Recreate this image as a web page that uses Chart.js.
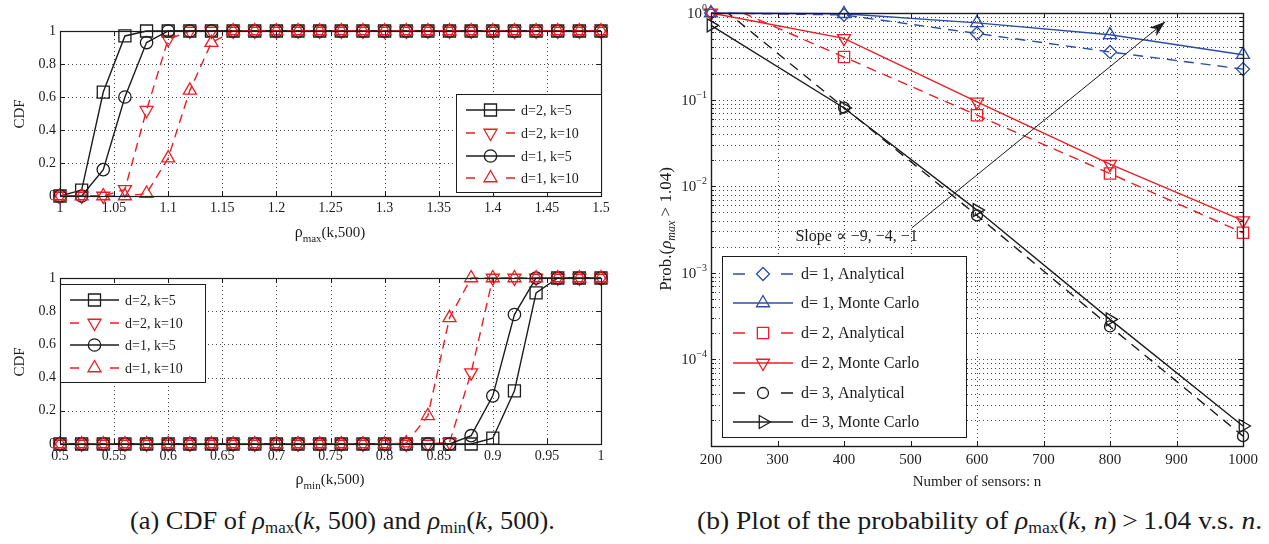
<!DOCTYPE html>
<html><head><meta charset="utf-8">
<script src="https://cdn.jsdelivr.net/npm/chart.js@4/dist/chart.umd.min.js"></script>
<style>
html,body{margin:0;padding:0;background:#fff;}
body{width:1269px;height:544px;overflow:hidden;position:relative;font-family:"Liberation Serif","DejaVu Serif",serif;color:#1a1a1a;}
canvas{position:absolute;}
#cA{left:0;top:0;} #cB{left:0;top:248px;} #cC{left:640px;top:0;}
.cap{position:absolute;top:506px;left:0;font-size:25px;line-height:30px;white-space:nowrap;transform-origin:left top;font-family:"Liberation Serif",serif;}
.cap i{font-style:italic;}
.cap sub{font-size:16px;vertical-align:-4px;line-height:0;}
</style></head><body>
<canvas id="cA" width="640" height="248"></canvas>
<canvas id="cB" width="640" height="252"></canvas>
<canvas id="cC" width="629" height="500"></canvas>
<div class="cap" id="capA">(a) CDF of <i>ρ</i><sub>max</sub>(<i>k,</i> 500) and <i>ρ</i><sub>min</sub>(<i>k,</i> 500).</div>
<div class="cap" id="capB">(b) Plot of the probability of <i>ρ</i><sub>max</sub>(<i>k, n</i>)&thinsp;&gt;&thinsp;1.04 v.s. <i>n</i>.</div>
<script>
// ---------------- DATA ----------------
const rhoMaxX = [1.00,1.02,1.04,1.06,1.08,1.10,1.12,1.14,1.16,1.18,1.20,1.22,1.24,1.26,1.28,1.30,1.32,1.34,1.36,1.38,1.40,1.42,1.44,1.46,1.48,1.50];
const maxD2K5  = [0,0.036,0.63,0.97,1,1,1,1,1,1,1,1,1,1,1,1,1,1,1,1,1,1,1,1,1,1];
const maxD2K10 = [0,0,0,0.04,0.52,0.95,1,1,1,1,1,1,1,1,1,1,1,1,1,1,1,1,1,1,1,1];
const maxD1K5  = [0,0,0.16,0.60,0.93,1,1,1,1,1,1,1,1,1,1,1,1,1,1,1,1,1,1,1,1,1];
const maxD1K10 = [0,0,0,0,0.015,0.23,0.64,0.93,1,1,1,1,1,1,1,1,1,1,1,1,1,1,1,1,1,1];
const maxTicks = [1,1.05,1.1,1.15,1.2,1.25,1.3,1.35,1.4,1.45,1.5];
const maxTickLabels = ['1','1.05','1.1','1.15','1.2','1.25','1.3','1.35','1.4','1.45','1.5'];

const rhoMinX = [0.50,0.52,0.54,0.56,0.58,0.60,0.62,0.64,0.66,0.68,0.70,0.72,0.74,0.76,0.78,0.80,0.82,0.84,0.86,0.88,0.90,0.92,0.94,0.96,0.98,1.00];
const minD2K5  = [0,0,0,0,0,0,0,0,0,0,0,0,0,0,0,0,0,0,0,0,0.035,0.32,0.91,1,1,1];
const minD2K10 = [0,0,0,0,0,0,0,0,0,0,0,0,0,0,0,0,0,0,0.01,0.43,1,1,1,1,1,1];
const minD1K5  = [0,0,0,0,0,0,0,0,0,0,0,0,0,0,0,0,0,0,0,0.05,0.29,0.78,1,1,1,1];
const minD1K10 = [0,0,0,0,0,0,0,0,0,0,0,0,0,0,0,0,0.005,0.17,0.76,1,1,1,1,1,1,1];
const minTicks = [0.5,0.55,0.6,0.65,0.7,0.75,0.8,0.85,0.9,0.95,1];
const minTickLabels = ['0.5','0.55','0.6','0.65','0.7','0.75','0.8','0.85','0.9','0.95','1'];

const cdfTicks = [0,0.2,0.4,0.6,0.8,1];
const cdfTickLabels = ['0','0.2','0.4','0.6','0.8','1'];
const cdfLegendLabels = ['d=2, k=5','d=2, k=10','d=1, k=5','d=1, k=10'];

const sensorsN = [200,400,600,800,1000];
const d1Analytical = [1.0,0.95,0.58,0.355,0.225];
const d1MonteCarlo = [1.0,0.98,0.77,0.56,0.33];
const d2Analytical = [1.45,0.31,0.066,0.014,0.0029];
const d2MonteCarlo = [1.0,0.51,0.094,0.018,0.0040];
const d3Analytical = [1.45,0.081,0.0046,0.00024,0.000013];
const d3MonteCarlo = [0.72,0.080,0.0053,0.00029,0.000017];
const nTicks = [200,300,400,500,600,700,800,900,1000];
const probDecades = [1,0.1,0.01,0.001,0.0001];
const probDecadeExp = ['0','\u22121','\u22122','\u22123','\u22124'];
const probLegendLabels = ['d= 1, Analytical','d= 1, Monte Carlo','d= 2, Analytical','d= 2, Monte Carlo','d= 3, Analytical','d= 3, Monte Carlo'];
const slopeText = 'Slope \u221D \u22129, \u22124, \u22121';
const slopeArrow = {x0:502, y0:0.0033, x1:883, y1:0.79};
const slopeLabelAt = {x:419, y:0.0023};

// ---------------- STYLE ----------------
const BLACK='#1c1c1c', RED='#ee1c24', BLUE='#2b4ea3';
const SERIF='"Liberation Serif","DejaVu Serif",serif';
const FRAME = {};

function pts(xs, ys){ return xs.map((x,i)=>({x:x, y:ys[i]})); }

function drawMarker(ctx, st, x, y){
  ctx.save();
  ctx.strokeStyle = st.color; ctx.lineWidth = st.bw||1.3; ctx.setLineDash([]);
  ctx.fillStyle='rgba(0,0,0,0)';
  Chart.helpers.drawPoint(ctx,{pointStyle:st.style, rotation:st.rot||0, radius:st.r, borderWidth:st.bw||1.3}, x, y);
  ctx.restore();
}

function richText(ctx, parts, x, y, align, angle){
  ctx.save();
  ctx.translate(x,y); if(angle) ctx.rotate(angle);
  const fnt = p => (p.italic?'italic ':'')+p.size+'px '+SERIF;
  const w = parts.map(p=>{ctx.font=fnt(p); return ctx.measureText(p.t).width;});
  const tot = w.reduce((a,b)=>a+b,0);
  let cx = align==='center' ? -tot/2 : (align==='right' ? -tot : 0);
  ctx.textBaseline='alphabetic'; ctx.textAlign='left';
  parts.forEach((p,i)=>{ctx.font=fnt(p); ctx.fillStyle=p.color||BLACK; ctx.fillText(p.t,cx,p.dy||0); cx+=w[i];});
  ctx.restore();
}

const framePlugin = {
  id:'frame',
  beforeDatasetsDraw(chart){
    const o = FRAME[chart.canvas.id]; if(!o) return;
    const {ctx, chartArea:a} = chart; const xs=chart.scales.x, ys=chart.scales.y;
    ctx.save();
    ctx.strokeStyle='#444'; ctx.lineWidth=1; ctx.setLineDash([1,3]);
    ctx.beginPath();
    (o.xGrid||[]).forEach(v=>{const px=Math.round(xs.getPixelForValue(v))+0.5; ctx.moveTo(px,a.top); ctx.lineTo(px,a.bottom);});
    (o.yGrid||[]).forEach(v=>{const py=Math.round(ys.getPixelForValue(v))+0.5; ctx.moveTo(a.left,py); ctx.lineTo(a.right,py);});
    ctx.stroke();
    ctx.restore();
  },
  afterDatasetsDraw(chart){
    const o = FRAME[chart.canvas.id]; if(!o) return;
    const {ctx, chartArea:a} = chart; const xs=chart.scales.x, ys=chart.scales.y;
    ctx.save();
    ctx.strokeStyle=BLACK; ctx.setLineDash([]); ctx.lineWidth=1;
    ctx.beginPath();
    (o.xTicks||[]).forEach(v=>{const px=Math.round(xs.getPixelForValue(v))+0.5; ctx.moveTo(px,a.bottom); ctx.lineTo(px,a.bottom-5); ctx.moveTo(px,a.top); ctx.lineTo(px,a.top+5);});
    (o.yTicks||[]).forEach(v=>{const py=Math.round(ys.getPixelForValue(v))+0.5; ctx.moveTo(a.left,py); ctx.lineTo(a.left+5,py); ctx.moveTo(a.right,py); ctx.lineTo(a.right-5,py);});
    (o.yMinor||[]).forEach(v=>{const py=Math.round(ys.getPixelForValue(v))+0.5; ctx.moveTo(a.left,py); ctx.lineTo(a.left+3,py); ctx.moveTo(a.right,py); ctx.lineTo(a.right-3,py);});
    ctx.stroke();
    ctx.lineWidth=o.boxWidth||1.2;
    ctx.strokeRect(Math.round(a.left)+0.5, Math.round(a.top)+0.5, Math.round(a.right-a.left), Math.round(a.bottom-a.top));
    ctx.restore();
    if (o.extra) o.extra(chart);
  },
  afterDraw(chart){
    const o = FRAME[chart.canvas.id]; if(!o) return;
    const ctx = chart.ctx;
    if (o.legend){
      const L=o.legend;
      ctx.save();
      ctx.fillStyle='#fff'; ctx.fillRect(L.x,L.y,L.w,L.h);
      ctx.strokeStyle=BLACK; ctx.lineWidth=1; ctx.setLineDash([]);
      ctx.strokeRect(L.x+0.5,L.y+0.5,L.w,L.h);
      L.items.forEach((it,i)=>{
        const y=L.rows[i];
        ctx.strokeStyle=it.color; ctx.lineWidth=it.lw||1.4; ctx.setLineDash([]);
        ctx.beginPath();
        if(it.dashed){ ctx.moveTo(L.lx0,y); ctx.lineTo(L.lx0+L.seg,y); ctx.moveTo(L.lx1-L.seg,y); ctx.lineTo(L.lx1,y);} 
        else { ctx.moveTo(L.lx0,y); ctx.lineTo(L.lx1,y);} 
        ctx.stroke();
        drawMarker(ctx,it,(L.lx0+L.lx1)/2,y);
        ctx.fillStyle=BLACK; ctx.font=L.font+'px '+SERIF; ctx.textBaseline='middle'; ctx.textAlign='left';
        ctx.fillText(it.label, L.tx, y+1);
      });
      ctx.restore();
    }
    (o.titles||[]).forEach(t=>richText(ctx,t.parts,t.x,t.y,t.align||'center',t.angle||0));
  }
};
Chart.register(framePlugin);

function ds(label, xs, ys, color, dashed, style, rot, r, order, clip){
  return {label, data:pts(xs,ys), borderColor:color, borderWidth:1.4, borderDash: dashed?dashed:[],
    pointStyle:style, pointRotation:rot||0, pointRadius:r, pointHoverRadius:r, pointBorderColor:color,
    pointBackgroundColor:'rgba(0,0,0,0)', pointBorderWidth:1.3, tension:0, fill:false, order:order,
    clip: clip===undefined?false:clip};
}

const tickFont = {family:SERIF, size:14};
function cdfChart(id, xs, series, xMin, xMax, xTicks, xTickLabels, geo, legend, titles){
  const dash=[9,6];
  FRAME[id] = {xGrid:xTicks, yGrid:cdfTicks, xTicks:xTicks, yTicks:cdfTicks, legend:legend, titles:titles};
  return new Chart(document.getElementById(id),{
    type:'line',
    data:{datasets:[
      ds(cdfLegendLabels[0], xs, series[0], BLACK, null,'rect',0,8.5,3),
      ds(cdfLegendLabels[1], xs, series[1], RED, dash,'triangle',180,7.5,2),
      ds(cdfLegendLabels[2], xs, series[2], BLACK, null,'circle',0,6.2,1),
      ds(cdfLegendLabels[3], xs, series[3], RED, dash,'triangle',0,7.5,0)
    ]},
    options:{
      animation:false, responsive:false, devicePixelRatio:1, events:[],
      layout:{padding:{left:0, top:geo.top, right:geo.right, bottom:0}},
      plugins:{legend:{display:false}, tooltip:{enabled:false}},
      scales:{
        x:{type:'linear', min:xMin, max:xMax, grid:{display:false, drawTicks:false}, border:{display:false},
          afterBuildTicks:s=>{s.ticks=xTicks.map(v=>({value:v}));},
          ticks:{autoSkip:false, maxRotation:0, padding:4, color:BLACK, font:tickFont, callback:(v,i)=>xTickLabels[i]},
          afterFit:s=>{s.height=geo.xh;}},
        y:{type:'linear', min:0, max:1, grid:{display:false, drawTicks:false}, border:{display:false},
          afterBuildTicks:s=>{s.ticks=cdfTicks.map(v=>({value:v}));},
          ticks:{autoSkip:false, padding:4, color:BLACK, font:tickFont, callback:(v,i)=>cdfTickLabels[i]},
          afterFit:s=>{s.width=geo.yw;}}
      }
    }
  });
}

function cdfLegend(x,y,rows){
  return {x:x,y:y,w:145,h:98,rows:rows,lx0:x+10,lx1:x+59,seg:9,tx:x+65,font:14,
    items:[
      {label:cdfLegendLabels[0],color:BLACK,style:'rect',r:8.5},
      {label:cdfLegendLabels[1],color:RED,style:'triangle',rot:180,r:7.5,dashed:true},
      {label:cdfLegendLabels[2],color:BLACK,style:'circle',r:6.2},
      {label:cdfLegendLabels[3],color:RED,style:'triangle',r:7.5,dashed:true}
    ]};
}

cdfChart('cA', rhoMaxX, [maxD2K5,maxD2K10,maxD1K5,maxD1K10], 1, 1.5, maxTicks, maxTickLabels,
  {top:31,right:39,xh:52,yw:60},
  cdfLegend(456,94,[110,133,156,178]),
  [{parts:[{t:'\u03C1',size:16},{t:'max',size:11,dy:5},{t:'(k,500)',size:15}],x:330,y:237},
   {parts:[{t:'CDF',size:15}],x:24,y:114,angle:-Math.PI/2}]);

cdfChart('cB', rhoMinX, [minD2K5,minD2K10,minD1K5,minD1K10], 0.5, 1, minTicks, minTickLabels,
  {top:30,right:39,xh:56,yw:60},
  cdfLegend(60,36,[52,75,97,120]),
  [{parts:[{t:'\u03C1',size:16},{t:'min',size:11,dy:5},{t:'(k,500)',size:15}],x:330,y:236},
   {parts:[{t:'CDF',size:15}],x:24,y:114,angle:-Math.PI/2}]);

// ---------------- Right chart ----------------
const yMinor=[];
[0.1,0.01,0.001,0.0001,0.00001].forEach(d=>{ for(let k=2;k<=9;k++){ yMinor.push(+(d*k).toPrecision(3)); } });
const dashR=[10,7];
FRAME['cC'] = {xGrid:nTicks, yGrid:probDecades.concat(yMinor), xTicks:nTicks, yTicks:probDecades, yMinor:yMinor, boxWidth:1.4,
  legend:{x:82,y:256,w:244,h:181,rows:[274,303,333,363,393,422],lx0:93,lx1:153,seg:12,tx:161,font:16,
    items:[
      {label:probLegendLabels[0],color:BLUE,style:'rectRot',r:6.5,dashed:true},
      {label:probLegendLabels[1],color:BLUE,style:'triangle',r:7.5},
      {label:probLegendLabels[2],color:RED,style:'rect',r:8,dashed:true},
      {label:probLegendLabels[3],color:RED,style:'triangle',rot:180,r:7.5},
      {label:probLegendLabels[4],color:BLACK,style:'circle',r:5.5,dashed:true},
      {label:probLegendLabels[5],color:BLACK,style:'triangle',rot:90,r:7.5}
    ]},
  titles:[
    {parts:[{t:'Number of sensors: n',size:15}],x:337,y:486},
    {parts:[{t:'Prob.(',size:17},{t:'\u03C1',size:17,italic:true},{t:'max',size:12,italic:true,dy:4},{t:' > 1.04)',size:17}],x:31,y:229,angle:-Math.PI/2}
  ],
  extra:(chart)=>{
    const ctx=chart.ctx, xs=chart.scales.x, ys=chart.scales.y;
    probDecades.forEach((v,i)=>{
      const py=ys.getPixelForValue(v);
      richText(ctx,[{t:'10',size:15},{t:probDecadeExp[i],size:10,dy:-7}],chart.chartArea.left-4,py+5,'right',0);
    });
    const x0=xs.getPixelForValue(slopeArrow.x0), y0=ys.getPixelForValue(slopeArrow.y0);
    const x1=xs.getPixelForValue(slopeArrow.x1), y1=ys.getPixelForValue(slopeArrow.y1);
    ctx.save(); ctx.strokeStyle=BLACK; ctx.fillStyle=BLACK; ctx.lineWidth=1; ctx.setLineDash([]);
    ctx.beginPath(); ctx.moveTo(x0,y0); ctx.lineTo(x1,y1); ctx.stroke();
    const ang=Math.atan2(y1-y0,x1-x0), L=16, W=5.5;
    const bx=x1-L*Math.cos(ang), by=y1-L*Math.sin(ang);
    ctx.beginPath(); ctx.moveTo(x1,y1);
    ctx.lineTo(bx+W*Math.sin(ang), by-W*Math.cos(ang));
    ctx.lineTo(x1-L*0.7*Math.cos(ang), y1-L*0.7*Math.sin(ang));
    ctx.lineTo(bx-W*Math.sin(ang), by+W*Math.cos(ang));
    ctx.closePath(); ctx.fill();
    ctx.restore();
    richText(ctx,[{t:slopeText,size:16}],xs.getPixelForValue(slopeLabelAt.x),ys.getPixelForValue(slopeLabelAt.y),'center',0);
  }
};
new Chart(document.getElementById('cC'),{
  type:'line',
  data:{datasets:[
    ds(probLegendLabels[0], sensorsN, d1Analytical, BLUE, dashR,'rectRot',0,6.5,5),
    ds(probLegendLabels[1], sensorsN, d1MonteCarlo, BLUE, null,'triangle',0,7.5,4),
    ds(probLegendLabels[2], sensorsN, d2Analytical, RED, dashR,'rect',0,8,3,{left:false,right:false,top:0,bottom:false}),
    ds(probLegendLabels[3], sensorsN, d2MonteCarlo, RED, null,'triangle',180,7.5,2),
    ds(probLegendLabels[4], sensorsN, d3Analytical, BLACK, dashR,'circle',0,5.5,1,{left:false,right:false,top:0,bottom:false}),
    ds(probLegendLabels[5], sensorsN, d3MonteCarlo, BLACK, null,'triangle',90,7.5,0)
  ]},
  options:{
    animation:false, responsive:false, devicePixelRatio:1, events:[],
    layout:{padding:{left:0, top:13, right:26, bottom:0}},
    plugins:{legend:{display:false}, tooltip:{enabled:false}},
    scales:{
      x:{type:'linear', min:200, max:1000, grid:{display:false, drawTicks:false}, border:{display:false},
        afterBuildTicks:s=>{s.ticks=nTicks.map(v=>({value:v}));},
        ticks:{autoSkip:false, maxRotation:0, padding:5, color:BLACK, font:{family:SERIF,size:15}, callback:v=>String(v)},
        afterFit:s=>{s.height=54;}},
      y:{type:'logarithmic', min:0.00001, max:1, grid:{display:false, drawTicks:false}, border:{display:false},
        afterBuildTicks:s=>{s.ticks=probDecades.map(v=>({value:v}));},
        ticks:{display:false},
        afterFit:s=>{s.width=71;}}
    }
  }
});

function fitCap(id, left, right){
  const el=document.getElementById(id); const w=el.getBoundingClientRect().width;
  const sx=(right-left)/w; el.style.left=left+'px'; el.style.transform='scaleX('+sx.toFixed(3)+')';
}
fitCap('capA',130,555);
fitCap('capB',697,1262);
</script>
</body></html>
